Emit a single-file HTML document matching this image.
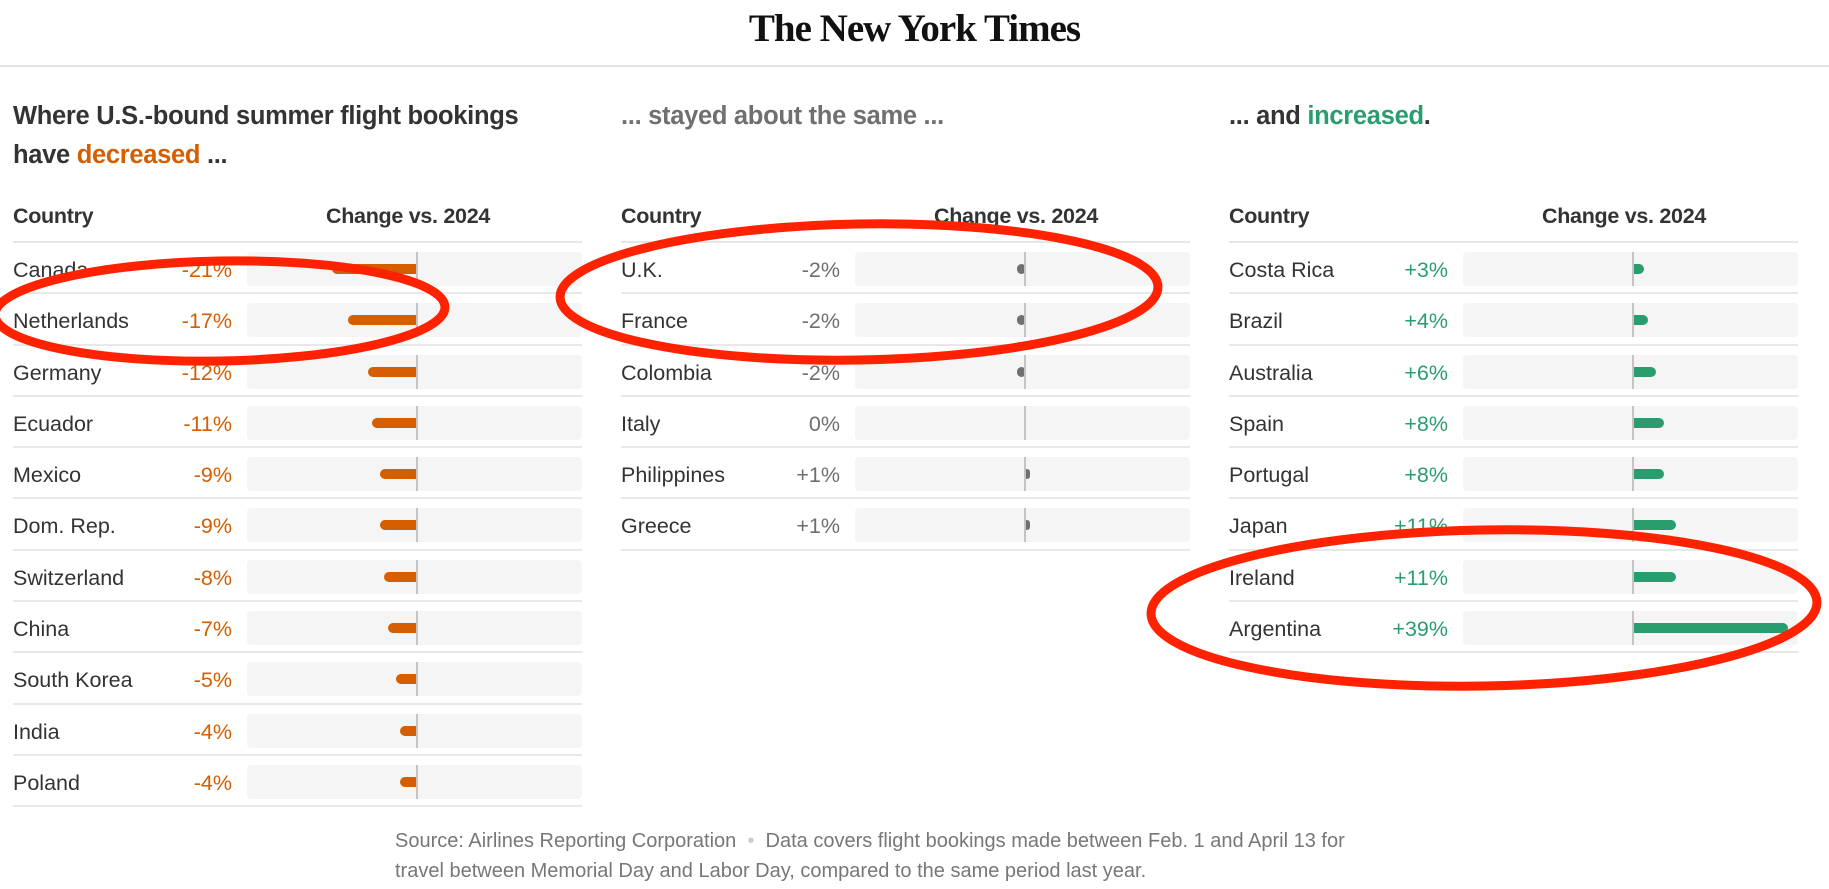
<!DOCTYPE html>
<html><head><meta charset="utf-8"><style>
*{margin:0;padding:0;box-sizing:border-box}
body{width:1829px;height:889px;background:#fff;position:relative;overflow:hidden;font-family:"Liberation Sans",Arial,sans-serif;color:#333}
.logo{position:absolute;top:6px;left:0;width:1829px;text-align:center;font-family:"Liberation Serif",serif;font-weight:bold;font-size:39px;color:#111;letter-spacing:-1px}
.topline{position:absolute;top:65px;left:0;width:1829px;height:2px;background:#e2e2e2}
.title{position:absolute;top:97px;font-weight:bold;font-size:25.5px;line-height:39px;color:#333;letter-spacing:-0.3px}
.col{position:absolute;top:196px;width:569px}
.hdr{height:47px;border-bottom:2px solid #e6e6e6;font-weight:bold;font-size:21.5px;position:relative;letter-spacing:-0.3px}
.hdr span{position:absolute;top:8px}
.row{height:51.3px;border-bottom:2px solid #e8e8e8;position:relative;font-size:21.5px}
.nm{position:absolute;left:0;top:10px;line-height:34px}
.vl{position:absolute;right:350px;top:10px;line-height:34px;text-align:right}
.box{position:absolute;left:234px;top:9px;width:335px;height:34px;background:#f5f5f5;border-radius:4px}
.z{position:absolute;left:169px;top:0;width:2px;height:34px;background:#c4c4c4}
.b{position:absolute;top:12px;height:10px}
.o .vl{color:#d55e00}.o .b{background:#d55e00;border-radius:5px 0 0 5px}
.g .vl{color:#6f6f6f}.g .b{background:#6f6f6f;border-radius:5px}
.n .vl{color:#2a9d6e}.n .b{background:#2a9d6e;border-radius:0 5px 5px 0}
.foot{position:absolute;left:395px;top:826px;font-size:20px;line-height:30px;color:#777}
</style></head><body>
<div class="logo">The New York Times</div>
<div class="topline"></div>
<div class="title" style="left:13px">Where U.S.-bound summer flight bookings<br>have <span style="color:#d55e00">decreased</span> ...</div>
<div class="title" style="left:621px;color:#6f6f6f">... stayed about the same ...</div>
<div class="title" style="left:1229px">... and <span style="color:#2a9d6e">increased</span>.</div>

<div class="col o" style="left:13px">
<div class="hdr"><span style="left:0">Country</span><span style="left:313px">Change vs. 2024</span></div>
<div class="row"><div class="nm">Canada</div><div class="vl">-21%</div><div class="box"><div class="b" style="left:85px;width:84px"></div><div class="z"></div></div></div>
<div class="row"><div class="nm">Netherlands</div><div class="vl">-17%</div><div class="box"><div class="b" style="left:101px;width:68px"></div><div class="z"></div></div></div>
<div class="row"><div class="nm">Germany</div><div class="vl">-12%</div><div class="box"><div class="b" style="left:121px;width:48px"></div><div class="z"></div></div></div>
<div class="row"><div class="nm">Ecuador</div><div class="vl">-11%</div><div class="box"><div class="b" style="left:125px;width:44px"></div><div class="z"></div></div></div>
<div class="row"><div class="nm">Mexico</div><div class="vl">-9%</div><div class="box"><div class="b" style="left:133px;width:36px"></div><div class="z"></div></div></div>
<div class="row"><div class="nm">Dom. Rep.</div><div class="vl">-9%</div><div class="box"><div class="b" style="left:133px;width:36px"></div><div class="z"></div></div></div>
<div class="row"><div class="nm">Switzerland</div><div class="vl">-8%</div><div class="box"><div class="b" style="left:137px;width:32px"></div><div class="z"></div></div></div>
<div class="row"><div class="nm">China</div><div class="vl">-7%</div><div class="box"><div class="b" style="left:141px;width:28px"></div><div class="z"></div></div></div>
<div class="row"><div class="nm">South Korea</div><div class="vl">-5%</div><div class="box"><div class="b" style="left:149px;width:20px"></div><div class="z"></div></div></div>
<div class="row"><div class="nm">India</div><div class="vl">-4%</div><div class="box"><div class="b" style="left:153px;width:16px"></div><div class="z"></div></div></div>
<div class="row"><div class="nm">Poland</div><div class="vl">-4%</div><div class="box"><div class="b" style="left:153px;width:16px"></div><div class="z"></div></div></div>
</div>

<div class="col g" style="left:621px">
<div class="hdr"><span style="left:0">Country</span><span style="left:313px">Change vs. 2024</span></div>
<div class="row"><div class="nm">U.K.</div><div class="vl">-2%</div><div class="box"><div class="b" style="left:162px;width:9px"></div><div class="z"></div></div></div>
<div class="row"><div class="nm">France</div><div class="vl">-2%</div><div class="box"><div class="b" style="left:162px;width:9px"></div><div class="z"></div></div></div>
<div class="row"><div class="nm">Colombia</div><div class="vl">-2%</div><div class="box"><div class="b" style="left:162px;width:9px"></div><div class="z"></div></div></div>
<div class="row"><div class="nm">Italy</div><div class="vl">0%</div><div class="box"><div class="z"></div></div></div>
<div class="row"><div class="nm">Philippines</div><div class="vl">+1%</div><div class="box"><div class="b" style="left:169px;width:6px"></div><div class="z"></div></div></div>
<div class="row"><div class="nm">Greece</div><div class="vl">+1%</div><div class="box"><div class="b" style="left:169px;width:6px"></div><div class="z"></div></div></div>
</div>

<div class="col n" style="left:1229px">
<div class="hdr"><span style="left:0">Country</span><span style="left:313px">Change vs. 2024</span></div>
<div class="row"><div class="nm">Costa Rica</div><div class="vl">+3%</div><div class="box"><div class="b" style="left:169px;width:12px"></div><div class="z"></div></div></div>
<div class="row"><div class="nm">Brazil</div><div class="vl">+4%</div><div class="box"><div class="b" style="left:169px;width:16px"></div><div class="z"></div></div></div>
<div class="row"><div class="nm">Australia</div><div class="vl">+6%</div><div class="box"><div class="b" style="left:169px;width:24px"></div><div class="z"></div></div></div>
<div class="row"><div class="nm">Spain</div><div class="vl">+8%</div><div class="box"><div class="b" style="left:169px;width:32px"></div><div class="z"></div></div></div>
<div class="row"><div class="nm">Portugal</div><div class="vl">+8%</div><div class="box"><div class="b" style="left:169px;width:32px"></div><div class="z"></div></div></div>
<div class="row"><div class="nm">Japan</div><div class="vl">+11%</div><div class="box"><div class="b" style="left:169px;width:44px"></div><div class="z"></div></div></div>
<div class="row"><div class="nm">Ireland</div><div class="vl">+11%</div><div class="box"><div class="b" style="left:169px;width:44px"></div><div class="z"></div></div></div>
<div class="row"><div class="nm">Argentina</div><div class="vl">+39%</div><div class="box"><div class="b" style="left:169px;width:156px"></div><div class="z"></div></div></div>
</div>

<div class="foot">Source: Airlines Reporting Corporation <span style="color:#ccc">&nbsp;•&nbsp;</span> Data covers flight bookings made between Feb. 1 and April 13 for<br>travel between Memorial Day and Labor Day, compared to the same period last year.</div>

<svg width="1829" height="889" style="position:absolute;left:0;top:0" fill="none" stroke="#ff2200" stroke-width="9">
<ellipse cx="220" cy="311" rx="225" ry="50" transform="rotate(-1 220 311)"/>
<ellipse cx="859" cy="292" rx="299" ry="68" transform="rotate(-1 859 292)"/>
<ellipse cx="1484" cy="608" rx="333" ry="78" transform="rotate(-1 1484 608)"/>
</svg>
</body></html>
